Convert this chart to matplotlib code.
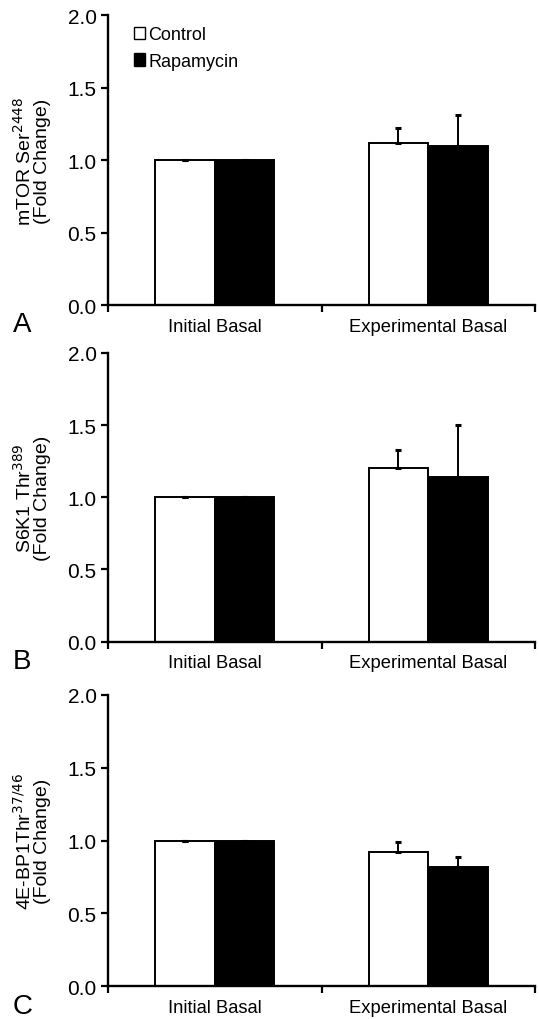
import numpy as np
import matplotlib
matplotlib.use('Agg')
import matplotlib.pyplot as plt
from matplotlib.patches import Patch

plt.rcParams['font.family'] = ['Liberation Sans', 'DejaVu Sans']

# Données
groups = ['Initial Basal', 'Experimental Basal']
series = ['Control', 'Rapamycin']
colors = ['white', 'black']

ylabels = [r'mTOR Ser$^{2448}$', r'S6K1 Thr$^{389}$', r'4E-BP1Thr$^{37/46}$']
letters = ['A', 'B', 'C']

control_vals = [[1.00, 1.12], [1.00, 1.20], [1.00, 0.92]]
control_err = [[0.0, 0.10], [0.0, 0.13], [0.0, 0.07]]
rapa_vals = [[1.00, 1.10], [1.00, 1.14], [1.00, 0.82]]
rapa_err = [[0.0, 0.21], [0.0, 0.36], [0.0, 0.07]]

fig = plt.figure(figsize=(5.39, 10.2), dpi=100)
# positions des panneaux (left, bottom, width, height)
boxes = [[0.200, 0.700, 0.793, 0.284],
         [0.200, 0.370, 0.793, 0.283],
         [0.200, 0.032, 0.793, 0.286]]

x = np.arange(len(groups))
w = 0.28

for i in range(3):
    ax = fig.add_axes(boxes[i])
    ax.bar(x - w/2, control_vals[i], w, color=colors[0], edgecolor='black', linewidth=1.4,
           yerr=[np.zeros(2), control_err[i]], capsize=2.0,
           error_kw=dict(elinewidth=1.4, capthick=2.2, ecolor='black'))
    ax.bar(x + w/2, rapa_vals[i], w, color=colors[1], edgecolor='black', linewidth=1.4,
           yerr=[np.zeros(2), rapa_err[i]], capsize=2.0,
           error_kw=dict(elinewidth=1.4, capthick=2.2, ecolor='black'))

    ax.set_xlim(-0.5, 1.5)
    ax.set_ylim(0, 2.0)
    ax.set_yticks([0, 0.5, 1.0, 1.5, 2.0])
    ax.set_yticklabels(['0.0', '0.5', '1.0', '1.5', '2.0'], fontsize=15)
    ax.set_xticks([-0.5, 0.5, 1.5])
    ax.set_xticklabels([])
    ax.tick_params(axis='both', direction='out', length=5, width=1.6, pad=3)
    for j, g in enumerate(groups):
        ax.text(x[j], -0.145, g, ha='center', va='center', fontsize=13.2, transform=ax.transData)
    for s in ['top', 'right']:
        ax.spines[s].set_visible(False)
    for s in ['left', 'bottom']:
        ax.spines[s].set_linewidth(1.7)
    ax.set_ylabel(ylabels[i] + '\n(Fold Change)', fontsize=14, labelpad=12, linespacing=0.95)
    ax.text(-0.20, -0.066, letters[i], transform=ax.transAxes, fontsize=20, ha='center', va='center')

    if i == 0:
        handles = [Patch(facecolor=c, edgecolor='black', linewidth=1.0) for c in colors]
        ax.legend(handles, series, loc='upper left', bbox_to_anchor=(0.035, 1.0), frameon=False,
                  fontsize=13, handlelength=0.65, handleheight=0.7, handletextpad=0.15,
                  labelspacing=0.55, borderaxespad=0.2)

fig.savefig('out.png', dpi=100)
